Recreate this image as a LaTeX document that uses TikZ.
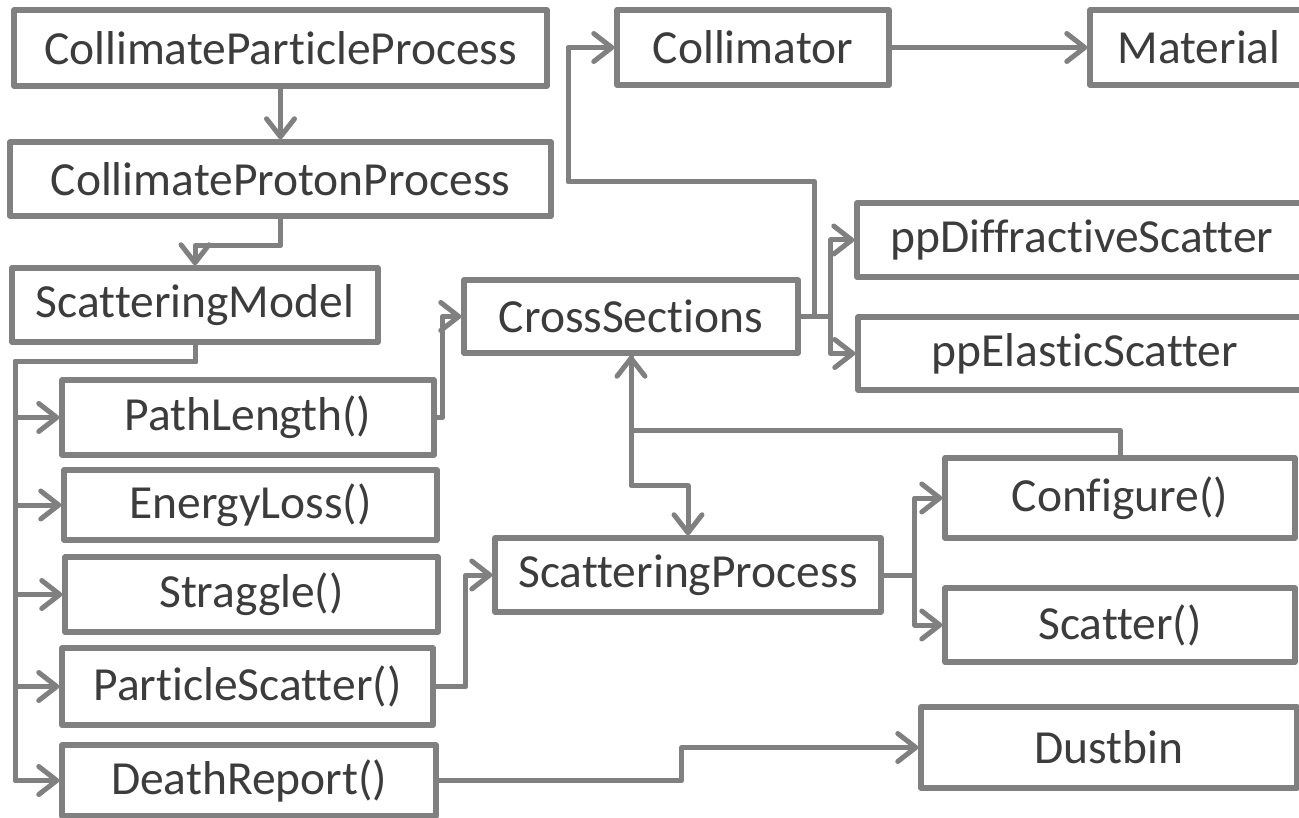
\documentclass[tikz,border=0pt]{standalone}
\usepackage{fontspec}
\setmainfont{Carlito}[Ligatures=NoCommon]
\usetikzlibrary{arrows.meta}
\definecolor{linegray}{RGB}{128,128,128}
\definecolor{txtgray}{RGB}{60,60,60}
\begin{document}
\begin{tikzpicture}[x=1pt,y=-1pt,
  box/.style={draw=linegray, line width=5.5pt, line join=round, fill=white, inner sep=0pt,
    text=txtgray, font=\fontsize{47.5}{56}\selectfont},
  conn/.style={draw=linegray, line width=5pt, line join=round},
  arr/.style={conn, -{Straight Barb[length=18pt,width=28pt,round]}}]
\clip (0,0) rectangle (1299,818);
\fill[white] (0,0) rectangle (1299,818);
% boxes
\node[box, minimum width=533pt, minimum height=76pt] (cpp) at (280.5,48) {CollimateParticleProcess};
\node[box, minimum width=541pt, minimum height=74pt] (cpr) at (280.5,179) {CollimateProtonProcess};
\node[box, minimum width=366pt, minimum height=74pt] (sm) at (195,305) {ScatteringModel};
\node[box, minimum width=272pt, minimum height=75pt] (coll) at (753,47.5) {Collimator};
\node[box, minimum width=218pt, minimum height=75pt] (mat) at (1199,47.5) {Material};
\node[box, minimum width=334pt, minimum height=73pt] (cs) at (631,316.5) {CrossSections};
\node[box, minimum width=450pt, minimum height=74pt] (ppd) at (1082,240) {ppDiffractiveScatter};
\node[box, minimum width=454pt, minimum height=73pt] (ppe) at (1085,353.5) {ppElasticScatter};
\node[box, minimum width=372pt, minimum height=75pt] (pl) at (248,417.5) {PathLength()};
\node[box, minimum width=373pt, minimum height=70pt] (el) at (250.5,505) {EnergyLoss()};
\node[box, minimum width=373pt, minimum height=75pt] (st) at (251.5,594.5) {Straggle()};
\node[box, minimum width=371pt, minimum height=77pt] (ps) at (247.5,686.5) {ParticleScatter()};
\node[box, minimum width=374pt, minimum height=71pt] (dr) at (249,780.5) {DeathReport()};
\node[box, minimum width=386pt, minimum height=74pt] (sp) at (688,575) {ScatteringProcess};
\node[box, minimum width=350pt, minimum height=80pt] (cfg) at (1120,498) {Configure()};
\node[box, minimum width=350pt, minimum height=74pt] (sc) at (1120,625) {Scatter()};
\node[box, minimum width=376pt, minimum height=81pt] (db) at (1109,747.5) {Dustbin};
% helper coordinates
\coordinate (bus) at (15,362);
\coordinate (jc) at (568,182);
% connectors
\draw[arr] (cpp.south) -- (cpr.north);
\draw[arr] (cpr.south) -- ++(0,27) -| (sm.north);
\draw[arr] (coll.east) -- (mat.west);
\draw[arr] (cs.east) -- ++(14,0) -- ++(0,-134.5) -| (jc) |- (coll.west);
\draw[arr] (cs.east) -- ++(30,0) |- (ppd.west);
\draw[arr] (cs.east) -- ++(30,0) |- (ppe.west);
\foreach \m in {pl,el,st,ps,dr}{
  \draw[arr] (sm.south) |- (bus) |- (\m.west);
}
\draw[arr] (pl.east) -- ++(6,0) |- (cs.west);
\draw[arr] (ps.east) -- ++(30,0) |- (sp.west);
\draw[arr] (sp.east) -- ++(31,0) |- (cfg.west);
\draw[arr] (sp.east) -- ++(31,0) |- (sc.west);
\draw[arr] (cfg.north) -- ++(0,-25) -| (cs.south);
\draw[arr] (cs.south) -- ++(0,130) -| (sp.north);
\draw[arr] (dr.east) -- ++(243,0) |- (db.west);
\end{tikzpicture}
\end{document}
